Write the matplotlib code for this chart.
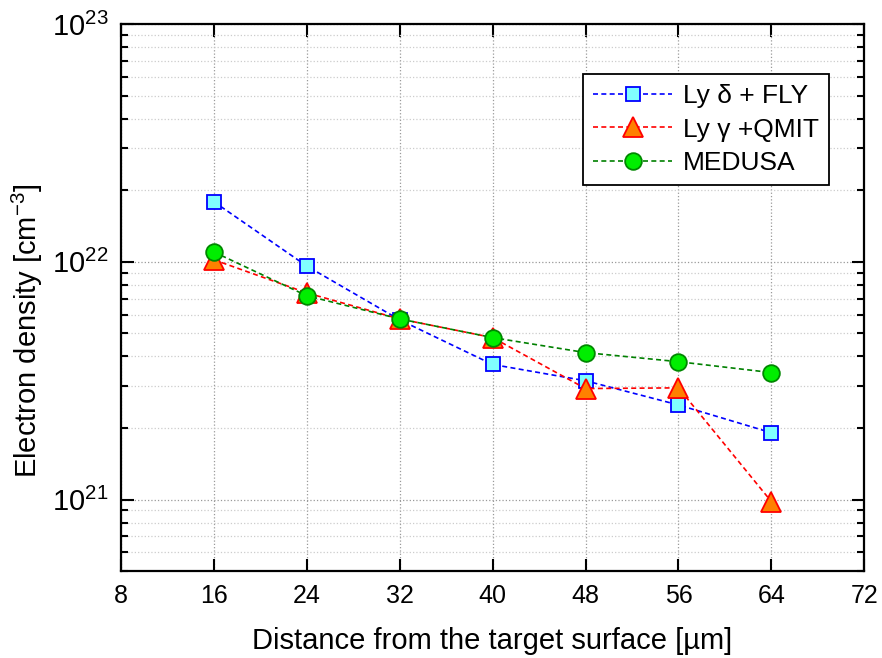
import matplotlib
matplotlib.use('Agg')
import matplotlib.pyplot as plt
from matplotlib.ticker import LogLocator, MultipleLocator, NullFormatter

plt.rcParams['font.family'] = ['Liberation Sans', 'DejaVu Sans']
plt.rcParams['mathtext.fontset'] = 'custom'
plt.rcParams['mathtext.rm'] = 'Liberation Sans'
plt.rcParams['mathtext.it'] = 'Liberation Sans:italic'

# data
distance = [16, 24, 32, 40, 48, 56, 64]
ly_delta_fly = [1.79e22, 9.6e21, 5.7e21, 3.7e21, 3.16e21, 2.5e21, 1.91e21]
ly_gamma_qmit = [1.02e22, 7.4e21, 5.75e21, 4.8e21, 2.93e21, 2.95e21, 0.98e21]
medusa = [1.1e22, 7.2e21, 5.75e21, 4.8e21, 4.15e21, 3.8e21, 3.42e21]

fig = plt.figure(figsize=(8.82, 6.58), dpi=100)
ax = fig.add_axes([0.137, 0.132, 0.843, 0.8315])

ax.plot(distance, ly_delta_fly, linestyle=(0, (3, 2)), color='blue', lw=1.2,
        marker='s', markersize=10, markerfacecolor='#80ffff', markeredgecolor='blue',
        markeredgewidth=1.3, label='Ly δ + FLY', zorder=3)
ax.plot(distance, ly_gamma_qmit, linestyle=(0, (3, 2)), color='red', lw=1.2,
        marker='^', markersize=14, markerfacecolor='#ff8000', markeredgecolor='red',
        markeredgewidth=1.3, label='Ly γ +QMIT', zorder=4)
ax.plot(distance, medusa, linestyle=(0, (3, 2)), color='green', lw=1.2,
        marker='o', markersize=12, markerfacecolor='#00ee00', markeredgecolor='#008800',
        markeredgewidth=1.3, label='MEDUSA', zorder=5)

ax.set_yscale('log')
ax.set_xlim(8, 72)
ax.set_ylim(5e20, 1e23)
ax.xaxis.set_major_locator(MultipleLocator(8))
ax.yaxis.set_major_locator(LogLocator(base=10, numticks=10))
ax.yaxis.set_minor_locator(LogLocator(base=10, subs=range(2, 10), numticks=20))
ax.yaxis.set_minor_formatter(NullFormatter())

ax.grid(True, which='major', axis='both', color='#999999', linestyle=':', lw=0.9)
ax.grid(True, which='minor', axis='y', color='#cccccc', linestyle=':', lw=0.9)

ax.tick_params(which='major', direction='in', length=9, width=1.5,
               top=True, right=True, labelsize=18, pad=9)
ax.tick_params(axis='y', which='major', labelsize=21)
ax.tick_params(which='minor', direction='in', length=5, width=1.5,
               top=False, right=True)
for s in ax.spines.values():
    s.set_linewidth(1.6)

ax.set_xlabel('Distance from the target surface [µm]', fontsize=21, labelpad=14)
ax.set_ylabel('Electron density [cm$^{-3}$]', fontsize=21)
ax.yaxis.set_label_coords(-0.102, 0.44)

leg = ax.legend(loc='upper right', bbox_to_anchor=(0.953, 0.909), borderaxespad=0,
                fontsize=19, fancybox=False, framealpha=1, edgecolor='black',
                handlelength=3.0, borderpad=0.4, labelspacing=0.35, handletextpad=0.4)
leg.get_frame().set_linewidth(1.3)

fig.savefig('out.png', dpi=100)
